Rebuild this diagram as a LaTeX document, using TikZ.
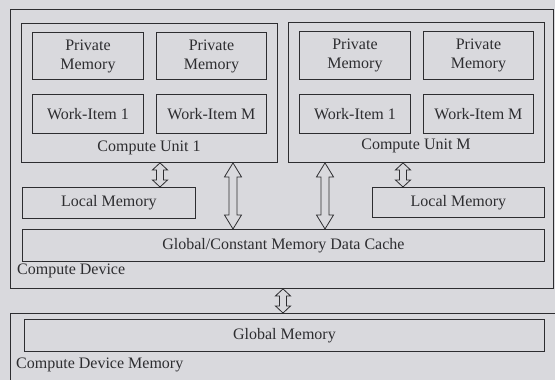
\documentclass[tikz,border=0pt]{standalone}
\usepackage{fontspec}
\setmainfont{Liberation Serif}
\usetikzlibrary{calc}
\definecolor{bgc}{RGB}{217,217,221}
\definecolor{inkc}{RGB}{45,45,48}
\tikzset{
  box/.style={draw=inkc, line width=0.9pt, rectangle, inner sep=0pt, anchor=north west, align=center, text=inkc},
  lbl/.style={text=inkc, inner sep=0pt},
  arrowline/.style={draw=inkc, line width=0.8pt, fill=bgc, line join=miter},
}
% #1 top coord, #2 bottom coord, #3 shaft half width, #4 head half width, #5 head length
\newcommand{\hollowarrow}[5]{%
  \draw[arrowline] (#1) -- ($(#1)+(#4,#5)$) -- ($(#1)+(#3,#5)$) -- ($(#2)+(#3,-#5)$) -- ($(#2)+(#4,-#5)$) -- (#2) -- ($(#2)+(-#4,-#5)$) -- ($(#2)+(-#3,-#5)$) -- ($(#1)+(-#3,#5)$) -- ($(#1)+(-#4,#5)$) -- cycle;}
\begin{document}
\begin{tikzpicture}[x=1pt,y=-1pt,font=\fontsize{16}{19}\selectfont]
\useasboundingbox (0,0) rectangle (555,380);
\fill[bgc] (0,0) rectangle (555,380);
\clip (0,0) rectangle (555,380);
% outer boxes
\node[box, minimum width=543pt, minimum height=279pt] (dev) at (10,9) {};
\node[box, minimum width=560pt, minimum height=100pt] (mem) at (10,313) {};
% compute units
\node[box, minimum width=256pt, minimum height=139pt] (cu1) at (21,23) {};
\node[box, minimum width=256pt, minimum height=140pt] (cuM) at (288,22) {};
% CU1 contents
\node[box, minimum width=111pt, minimum height=47pt] (pm11) at (32,32) {Private\\Memory};
\node[box, minimum width=110pt, minimum height=47pt] (pm12) at (156,32) {Private\\Memory};
\node[box, minimum width=111pt, minimum height=39pt] (wi11) at (32,94) {Work-Item 1};
\node[box, minimum width=110pt, minimum height=39pt] (wi12) at (156,94) {Work-Item M};
\node[lbl] (cu1l) at (149,148) {Compute Unit 1};
% CUM contents
\node[box, minimum width=111pt, minimum height=48pt] (pmM1) at (299,31) {Private\\Memory};
\node[box, minimum width=110pt, minimum height=48pt] (pmM2) at (423,31) {Private\\Memory};
\node[box, minimum width=111pt, minimum height=39pt] (wiM1) at (299,94) {Work-Item 1};
\node[box, minimum width=110pt, minimum height=39pt] (wiM2) at (423,94) {Work-Item M};
\node[lbl] (cuMl) at (416,146) {Compute Unit M};
% local memories and cache
\node[box, minimum width=173pt, minimum height=31pt] (lm1) at (22,187) {Local Memory};
\node[box, minimum width=172pt, minimum height=30pt] (lmM) at (372,187) {Local Memory};
\node[box, minimum width=522pt, minimum height=32pt] (cache) at (22,229) {Global/Constant Memory Data Cache};
\node[lbl, anchor=west] (devl) at (17,271) {Compute Device};
% global memory
\node[box, minimum width=520pt, minimum height=32pt] (gmem) at (24,319) {Global Memory};
\node[lbl, anchor=west] (meml) at (16,365) {Compute Device Memory};
% arrow x positions
\coordinate (x1) at (160,0);
\coordinate (x2) at (233,0);
\coordinate (x3) at (325,0);
\coordinate (x4) at (403,0);
\coordinate (x5) at (283,0);
\coordinate (a1t) at (cu1.south -| x1);
\coordinate (a1b) at (lm1.north -| x1);
\coordinate (a2t) at (cu1.south -| x2);
\coordinate (a2b) at (cache.north -| x2);
\coordinate (a3t) at (cuM.south -| x3);
\coordinate (a3b) at (cache.north -| x3);
\coordinate (a4t) at (cuM.south -| x4);
\coordinate (a4b) at (lmM.north -| x4);
\coordinate (a5t) at (dev.south -| x5);
\coordinate (a5b) at (mem.north -| x5);
\hollowarrow{a1t}{a1b}{3.5}{7.5}{7}
\hollowarrow{a2t}{a2b}{4}{8.5}{14}
\hollowarrow{a3t}{a3b}{4}{8.5}{14}
\hollowarrow{a4t}{a4b}{3.5}{7.5}{7}
\hollowarrow{a5t}{a5b}{3.5}{7.5}{7}
\end{tikzpicture}
\end{document}
